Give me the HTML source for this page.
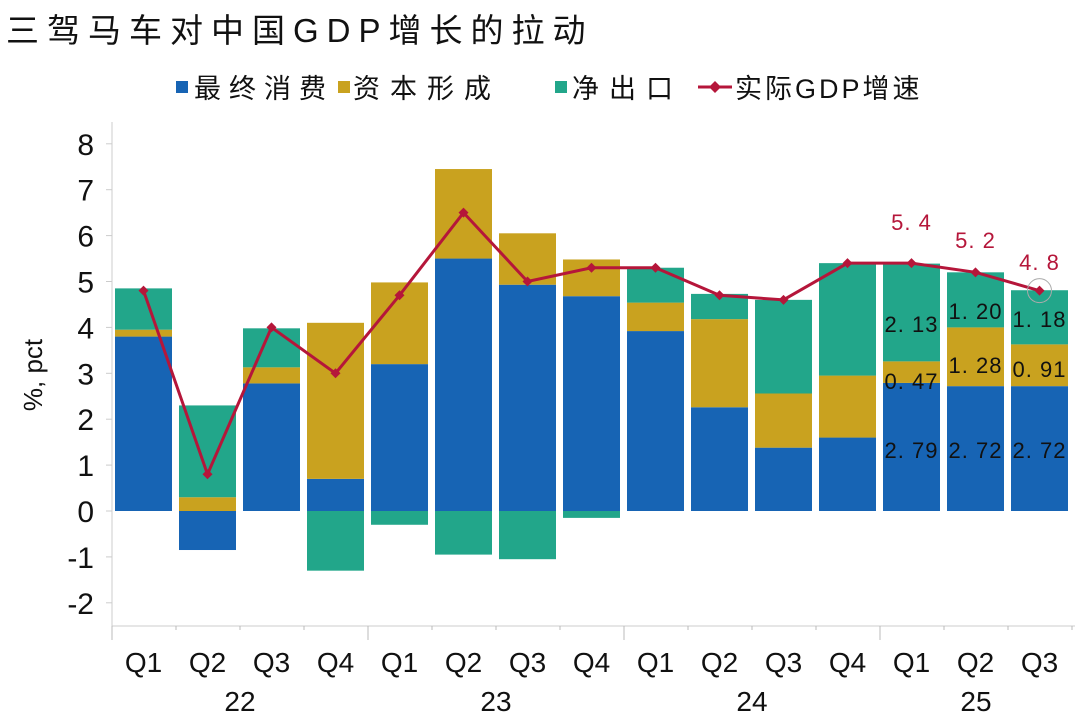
<!DOCTYPE html>
<html><head><meta charset="utf-8"><style>
body{margin:0;background:#fff;width:1080px;height:722px;overflow:hidden}
svg{display:block;font-family:"Liberation Sans","Noto Sans CJK SC",sans-serif}
</style></head><body>
<svg id="s" width="1080" height="722" xmlns="http://www.w3.org/2000/svg">
<text x="6" y="42" font-size="33" letter-spacing="8" fill="#111">三驾马车对中国GDP增长的拉动</text>
<rect x="176" y="81" width="12" height="12" fill="#1764b4"/>
<text x="194" y="98" font-size="27" letter-spacing="8" fill="#111">最终消费</text>
<rect x="338" y="81" width="12" height="12" fill="#c9a21f"/>
<text x="353" y="98" font-size="27" letter-spacing="10" fill="#111">资本形成</text>
<rect x="555" y="81" width="12" height="12" fill="#22a68a"/>
<text x="572" y="98" font-size="27" letter-spacing="10" fill="#111">净出口</text>
<line x1="698" y1="87" x2="732" y2="87" stroke="#b5163a" stroke-width="3"/>
<path d="M715 81 L721 87 L715 93 L709 87Z" fill="#b5163a"/>
<text x="735" y="98" font-size="27" letter-spacing="3" fill="#111">实际GDP增速</text>
<text transform="translate(42,375) rotate(-90)" font-size="26" fill="#111" text-anchor="middle">%, pct</text>
<g id="g"></g>
</svg>
<script>
var d=[[3.8,.15,.9,4.8],[-.85,.3,2.0,.8],[2.78,.35,.85,4.0],[.7,3.4,-1.3,3.0],[3.2,1.78,-.3,4.7],[5.5,1.95,-.95,6.5],[4.93,1.12,-1.05,5.0],[4.68,.8,-.15,5.3],[3.92,.62,.76,5.3],[2.26,1.92,.55,4.7],[1.38,1.18,2.04,4.6],[1.6,1.35,2.45,5.4],[2.79,.47,2.13,5.4],[2.72,1.28,1.20,5.2],[2.72,.91,1.18,4.8]];
var Y=v=>511-45.9*v,h='',C=['#1764b4','#c9a21f','#22a68a'];
h+='<line x1="112" y1="122" x2="112" y2="627" stroke="#ccc"/><line x1="112" y1="626" x2="1075" y2="626" stroke="#ccc"/>';
for(var v=-2;v<=8;v++){h+='<line x1="106" x2="112" y1="'+Y(v)+'" y2="'+Y(v)+'" stroke="#ccc"/><text x="94" y="'+(Y(v)+11)+'" font-size="30" text-anchor="end" fill="#111">'+v+'</text>';}
for(var i=0;i<=15;i++){var x=112+64*i;h+='<line x1="'+x+'" x2="'+x+'" y1="626" y2="'+(i%4==0?640:630)+'" stroke="#bbb"/>';}
d.forEach((r,i)=>{var x=115+64*i,p=0,n=0;for(var k=0;k<3;k++){var v=r[k],y0,y1;if(v>=0){y0=Y(p+v);y1=Y(p);p+=v}else{y0=Y(n);y1=Y(n+v);n+=v}h+='<rect x="'+x+'" y="'+y0+'" width="57" height="'+(y1-y0)+'" fill="'+C[k]+'"/>';}
h+='<text x="'+(x+28.5)+'" y="672" font-size="28" text-anchor="middle" fill="#111">Q'+(i%4+1)+'</text>';});
h+='<text x="240" y="711" font-size="28" text-anchor="middle" fill="#111">22</text><text x="496" y="711" font-size="28" text-anchor="middle" fill="#111">23</text><text x="752" y="711" font-size="28" text-anchor="middle" fill="#111">24</text><text x="976" y="711" font-size="28" text-anchor="middle" fill="#111">25</text>';
var pts=d.map((r,i)=>(143.5+64*i)+','+Y(r[3])).join(' ');
h+='<polyline points="'+pts+'" fill="none" stroke="#b5163a" stroke-width="3"/>';
d.forEach((r,i)=>{var x=143.5+64*i,y=Y(r[3]);h+='<path d="M'+x+' '+(y-5)+' L'+(x+5)+' '+y+' L'+x+' '+(y+5)+' L'+(x-5)+' '+y+'Z" fill="#b5163a"/>';});
h+='<circle cx="1039.5" cy="'+Y(4.8)+'" r="12" fill="none" stroke="#aaa"/>';
var lb=[[12,'2.79',450],[12,'0.47',381],[12,'2.13',324],[13,'2.72',450],[13,'1.28',365],[13,'1.20',311],[14,'2.72',450],[14,'0.91',369],[14,'1.18',319]];
lb.forEach(l=>{h+='<text x="'+(143.5+64*l[0])+'" y="'+(l[2]+8)+'" font-size="22" letter-spacing="1" text-anchor="middle" fill="#111">'+l[1].replace('.','. ')+'</text>';});
[[12,'5.4',230],[13,'5.2',248],[14,'4.8',270]].forEach(l=>{h+='<text x="'+(143.5+64*l[0])+'" y="'+l[2]+'" font-size="22" letter-spacing="1" text-anchor="middle" fill="#b5163a">'+l[1].replace('.','. ')+'</text>';});
document.getElementById('g').innerHTML=h;
</script>
</body></html>
